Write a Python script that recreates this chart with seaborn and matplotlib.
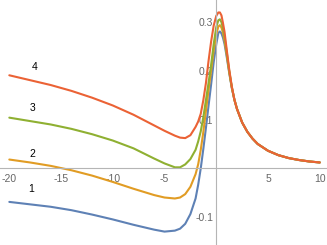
import matplotlib
matplotlib.use("Agg")
import matplotlib.pyplot as plt
import seaborn as sns
import pandas as pd
from matplotlib.ticker import MultipleLocator, FixedLocator

# sample positions along x (denser around the resonance)
x_vals = [-20, -18, -16, -14, -12, -10, -8, -6, -5, -4, -3.5, -3, -2.5, -2, -1.75, -1.5,
          -1.25, -1, -0.75, -0.5, -0.25, 0, 0.2, 0.35, 0.5, 0.65, 0.8, 1, 1.25, 1.5, 1.75,
          2, 2.5, 3, 3.5, 4, 5, 6, 7, 8, 9, 10]

tail = [0.141, 0.122, 0.094, 0.075, 0.061, 0.050, 0.036, 0.027, 0.021, 0.017, 0.014, 0.012]

curve_1 = [-0.069, -0.074, -0.079, -0.086, -0.095, -0.105, -0.116, -0.126, -0.130, -0.128,
           -0.124, -0.114, -0.094, -0.062, -0.034, 0.000, 0.040, 0.083, 0.128, 0.172,
           0.218, 0.255, 0.278, 0.281, 0.277, 0.268, 0.255, 0.230, 0.196, 0.165] + tail
curve_2 = [0.018, 0.012, 0.005, -0.004, -0.015, -0.028, -0.042, -0.055, -0.060, -0.062,
           -0.060, -0.053, -0.038, -0.012, 0.008, 0.038, 0.075, 0.118, 0.160, 0.200,
           0.242, 0.275, 0.291, 0.294, 0.289, 0.278, 0.262, 0.235, 0.198, 0.166] + tail
curve_3 = [0.104, 0.097, 0.090, 0.081, 0.070, 0.057, 0.041, 0.020, 0.010, 0.002,
           0.002, 0.008, 0.019, 0.038, 0.055, 0.076, 0.105, 0.140, 0.175, 0.212,
           0.255, 0.290, 0.304, 0.306, 0.300, 0.287, 0.270, 0.240, 0.200, 0.167] + tail
curve_4 = [0.191, 0.181, 0.171, 0.159, 0.145, 0.129, 0.110, 0.088, 0.077, 0.067,
           0.063, 0.062, 0.068, 0.085, 0.096, 0.112, 0.140, 0.175, 0.220, 0.260,
           0.293, 0.313, 0.320, 0.320, 0.314, 0.298, 0.280, 0.245, 0.203, 0.168] + tail

curve_names = ["1", "2", "3", "4"]
label_x = [-17.9, -17.8, -17.8, -17.6]
label_y = [-0.043, 0.030, 0.123, 0.207]

colors = ["#5E81B5", "#E19C24", "#8FB032", "#EB6235"]

frames = []
for name, ys in zip(curve_names, [curve_1, curve_2, curve_3, curve_4]):
    frames.append(pd.DataFrame({"x": x_vals, "y": ys, "curve": name}))
df = pd.concat(frames, ignore_index=True)

sns.set_style("white")
plt.rcParams["font.family"] = ["Liberation Sans", "DejaVu Sans"]

fig = plt.figure(figsize=(3.27, 2.45), dpi=100)
ax = fig.add_axes([0, 0, 1, 1])

sns.lineplot(data=df, x="x", y="y", hue="curve", palette=colors, linewidth=1.5,
             legend=False, ax=ax, sort=False)
for line in ax.get_lines():
    line.set_solid_joinstyle("round")

for name, lx, ly in zip(curve_names, label_x, label_y):
    ax.text(lx, ly, name, fontsize=7.5, color="black", ha="center", va="center")

ax.set_xlim(-20.9, 10.7)
ax.set_ylim(-0.1575, 0.3456)
ax.set_xlabel("")
ax.set_ylabel("")

# axes crossing at the origin, Mathematica style
for side in ["top", "right"]:
    ax.spines[side].set_visible(False)
ax.spines["left"].set_position(("data", 0))
ax.spines["bottom"].set_position(("data", 0))
for side in ["left", "bottom"]:
    ax.spines[side].set_color("#b5b5b5")
    ax.spines[side].set_linewidth(0.8)
ax.set_axisbelow(True)

ax.xaxis.set_major_locator(FixedLocator([-20, -15, -10, -5, 5, 10]))
ax.xaxis.set_minor_locator(MultipleLocator(1))
ax.yaxis.set_major_locator(FixedLocator([-0.1, 0.1, 0.2, 0.3]))
ax.yaxis.set_minor_locator(MultipleLocator(0.02))
ax.set_xticklabels(["-20", "-15", "-10", "-5", "5", "10"])
ax.set_yticklabels(["-0.1", "0.1", "0.2", "0.3"])

ax.tick_params(which="both", direction="in", colors="#b5b5b5", labelcolor="#666666",
               labelsize=7.5, width=0.7)
ax.tick_params(which="major", length=4)
ax.tick_params(which="minor", length=2)
ax.tick_params(axis="x", pad=4)
ax.tick_params(axis="y", pad=2)

fig.savefig("out.png", dpi=100)
